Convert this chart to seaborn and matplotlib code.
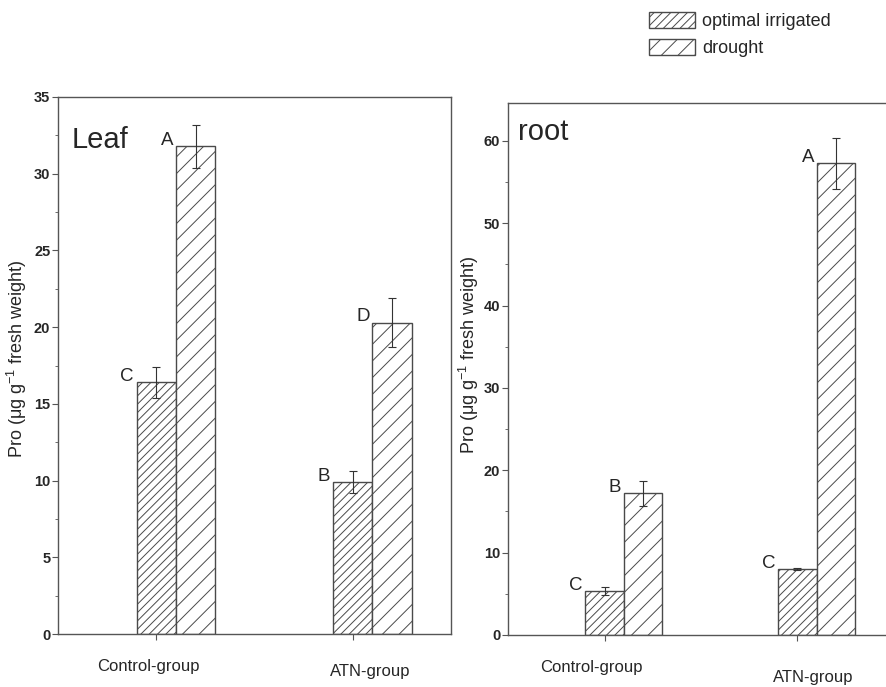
import matplotlib
matplotlib.use('Agg')

import pandas as pd
import numpy as np
import matplotlib.pyplot as plt
import matplotlib.patches as mpatches
from matplotlib.ticker import MultipleLocator
from matplotlib.transforms import ScaledTranslation
import seaborn as sns

# --------------------------------------------------------------------------- #
# DATA
# --------------------------------------------------------------------------- #
groups = ["Control-group", "ATN-group"]
treatments = ["optimal irrigated", "drought"]

leaf_opt = [16.4, 9.9]
leaf_opt_err = [1.0, 0.7]
leaf_dro = [31.8, 20.3]
leaf_dro_err = [1.4, 1.6]
leaf_letters_opt = ["C", "B"]
leaf_letters_dro = ["A", "D"]

root_opt = [5.35, 8.0]
root_opt_err = [0.5, 0.1]
root_dro = [17.2, 57.3]
root_dro_err = [1.5, 3.1]
root_letters_opt = ["C", "C"]
root_letters_dro = ["B", "A"]

EDGE = "#4a4a4a"
HATCHES = ["////", "//"]

# --------------------------------------------------------------------------- #
# STYLE
# --------------------------------------------------------------------------- #
sns.set_style("ticks")
plt.rcParams['font.family'] = ['Liberation Sans', 'DejaVu Sans']
plt.rcParams['hatch.linewidth'] = 0.7
plt.rcParams['mathtext.default'] = 'regular'


def draw_panel(ax, opt, opt_err, dro, dro_err, let_opt, let_dro,
               ymax, major, minor, title, title_xy, title_size,
               ylabel_xy, label_shifts):
    df = pd.DataFrame({
        "group": groups * 2,
        "treatment": [treatments[0]] * 2 + [treatments[1]] * 2,
        "value": opt + dro,
    })
    sns.barplot(data=df, x="group", y="value", hue="treatment",
                order=groups, hue_order=treatments, width=0.4,
                palette=["white", "white"], saturation=1,
                edgecolor=EDGE, linewidth=1.0, errorbar=None,
                legend=False, ax=ax)

    errs = [opt_err, dro_err]
    letters = [let_opt, let_dro]
    bar_conts = list(ax.containers)[:2]
    tick_pos = []
    for i, cont in enumerate(bar_conts):
        xs, ys = [], []
        for bar in cont:
            bar.set_hatch(HATCHES[i])
            xs.append(bar.get_x() + bar.get_width() / 2)
            ys.append(bar.get_height())
        if i == 0:
            tick_pos = xs
        ax.errorbar(xs, ys, yerr=errs[i], fmt='none', ecolor="#333333",
                    elinewidth=0.8, capsize=3, capthick=0.8, zorder=5)
        for bar, lt in zip(cont, letters[i]):
            ax.annotate(lt, (bar.get_x(), bar.get_height()),
                        xytext=(-2, 4), textcoords='offset points',
                        ha='right', va='center', fontsize=13.5)

    # origin-style: the category tick sits under the first bar of each group
    ax.set_xticks(tick_pos, labels=groups)
    ax.set_xlim(-0.6, 1.4)
    ax.set_ylim(0, ymax)
    ax.yaxis.set_major_locator(MultipleLocator(major))
    ax.yaxis.set_minor_locator(MultipleLocator(minor))
    ax.set_xlabel("")
    ax.set_ylabel("Pro ($\\mu$g g$^{-1}$ fresh weight)", fontsize=13)
    ax.yaxis.set_label_coords(*ylabel_xy)

    ax.text(title_xy[0], title_xy[1], title, transform=ax.transAxes,
            fontsize=title_size, ha='left', va='center')

    for side in ["left", "right", "top", "bottom"]:
        ax.spines[side].set_color("#555555")
        ax.spines[side].set_linewidth(1.0)
    ax.tick_params(axis='y', which='major', length=4, width=0.8,
                   color="#555555", labelsize=10.5, pad=1.5, direction='out')
    ax.tick_params(axis='y', which='minor', length=2, width=0.6,
                   color="#555555", direction='out', left=True)
    ax.tick_params(axis='x', length=4, width=0.8, color="#555555",
                   labelsize=12, pad=14, direction='out')
    for lbl in ax.get_yticklabels():
        lbl.set_fontweight('bold')

    fig = ax.figure
    for lbl, (dx, dy) in zip(ax.get_xticklabels(), label_shifts):
        lbl.set_transform(lbl.get_transform() +
                          ScaledTranslation(dx / 100, -dy / 100,
                                            fig.dpi_scale_trans))


fig = plt.figure(figsize=(8.87, 6.87), dpi=100)
ax1 = fig.add_axes([58 / 887, 1 - 634 / 687, 393 / 887, 537 / 687])
ax2 = fig.add_axes([508 / 887, 1 - 635 / 687, 386 / 887, 532 / 687])

draw_panel(ax1, leaf_opt, leaf_opt_err, leaf_dro, leaf_dro_err,
           leaf_letters_opt, leaf_letters_dro,
           35, 5, 2.5, "Leaf", (0.035, 0.92), 21, (-0.074, 0.512),
           [(-8, 0), (17, 5)])
draw_panel(ax2, root_opt, root_opt_err, root_dro, root_dro_err,
           root_letters_opt, root_letters_dro,
           64.6, 10, 5, "root", (0.026, 0.945), 21, (-0.07, 0.526),
           [(-13, 0), (16, 10)])

handles = [mpatches.Patch(facecolor="white", edgecolor=EDGE,
                          hatch=h, linewidth=1.0) for h in HATCHES]
fig.legend(handles, treatments, loc='upper left',
           bbox_to_anchor=(649 / 887, 1 - 12 / 687), frameon=False,
           fontsize=13, handlelength=2.55, handleheight=0.95,
           handletextpad=0.4, labelspacing=0.5, borderaxespad=0,
           borderpad=0)

fig.savefig("out.png", dpi=100, facecolor="white")
